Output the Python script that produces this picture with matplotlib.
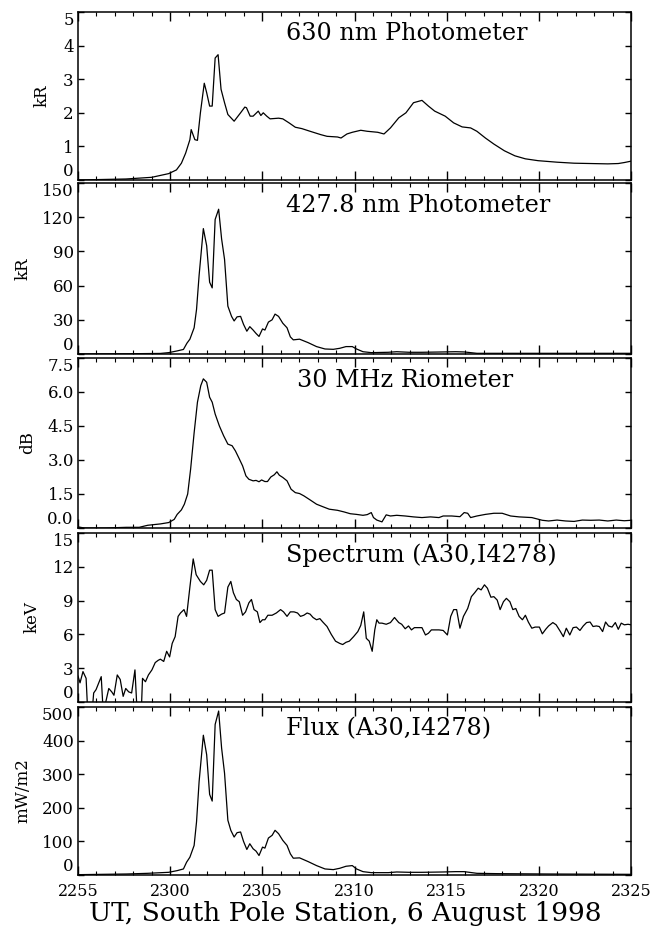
import matplotlib
matplotlib.use("Agg")
import matplotlib.pyplot as plt
from matplotlib.ticker import MultipleLocator, FixedLocator

plt.rcParams['font.family'] = ['DejaVu Serif']

# time axis: minutes after 22:55 UT
xtick_pos = [0, 5, 10, 15, 20, 25, 30]
xtick_labels = ['2255', '2300', '2305', '2310', '2315', '2320', '2325']

# Panel 1: 630 nm photometer (kR)
t1 = [0, 2.6, 4.0, 4.92, 5.34, 5.61, 5.84, 6.07, 6.14, 6.34, 6.48, 6.64, 6.85, 6.98, 7.14,
      7.28, 7.44, 7.60, 7.76, 7.95, 8.13, 8.47, 8.82, 9.05, 9.14, 9.34, 9.50, 9.78, 9.92, 10.05,
      10.24, 10.42, 10.88, 11.11, 11.45, 11.79, 12.14, 12.59, 13.17, 13.51, 14.08, 14.27, 14.59,
      14.88, 15.34, 15.69, 16.26, 16.60, 16.95, 17.40, 17.79, 18.20, 18.66, 19.01, 19.35, 19.92,
      20.38, 20.84, 21.30, 21.64, 22.10, 22.56, 23.13, 23.70, 24.27, 24.96, 25.99, 26.91, 27.82,
      28.74, 29.31, 29.64, 30.0]
v1 = [0.0, 0.03, 0.08, 0.19, 0.3, 0.5, 0.8, 1.2, 1.5, 1.2, 1.18, 2.0, 2.88, 2.6, 2.2,
      2.2, 3.63, 3.73, 2.7, 2.3, 1.95, 1.75, 2.0, 2.17, 2.15, 1.9, 1.9, 2.05, 1.92, 2.0,
      1.9, 1.82, 1.84, 1.82, 1.7, 1.57, 1.53, 1.45, 1.35, 1.3, 1.28, 1.25, 1.37,
      1.42, 1.48, 1.45, 1.42, 1.37, 1.55, 1.85, 2.0, 2.3, 2.37, 2.2, 2.05, 1.9,
      1.7, 1.58, 1.55, 1.45, 1.25, 1.07, 0.87, 0.72, 0.63, 0.575, 0.53, 0.5, 0.49,
      0.48, 0.49, 0.52, 0.56]

# Panel 2: 427.8 nm photometer (kR)
t2 = [0, 2.63, 4.47, 4.92, 5.38, 5.72, 5.91, 6.07, 6.30, 6.43, 6.57, 6.80, 6.98, 7.14, 7.28,
      7.44, 7.63, 7.79, 7.95, 8.13, 8.33, 8.47, 8.63, 8.82, 8.98, 9.16, 9.32, 9.50, 9.66, 9.82,
      10.01, 10.14, 10.33, 10.53, 10.69, 10.88, 11.11, 11.34, 11.52, 11.68, 12.02, 12.48, 12.94,
      13.40, 13.85, 14.20, 14.54, 14.88, 15.11, 15.46, 15.91, 16.83, 17.29, 17.98, 18.66, 19.81,
      20.49, 20.95, 21.64, 22.78, 30.0]
v2 = [0.1, 0.2, 0.5, 1.2, 2.7, 4, 9.5, 13, 23, 39, 69, 110, 95, 63, 58,
      118, 127, 101, 83, 42, 33, 29, 32.6, 33, 26, 20, 24, 21, 18, 15.4,
      22, 21, 28, 30, 35, 33, 27, 23, 15, 12.4, 13, 10, 6.5,
      4.4, 4.1, 5, 6.5, 6.5, 4.4, 2, 1.2, 1.5, 2, 1.5, 1.5, 1.8,
      2, 1.8, 0.6, 0.6, 0.6]

# Panel 3: 30 MHz riometer (dB)
t3 = [0, 0.34, 1.49, 2.63, 3.32, 3.78, 4.47, 4.92, 5.22, 5.38, 5.61, 5.77, 5.95, 6.11, 6.30,
      6.48, 6.66, 6.80, 6.98, 7.14, 7.28, 7.44, 7.67, 7.90, 8.13, 8.36, 8.54, 8.72, 8.93, 9.11,
      9.27, 9.50, 9.66, 9.82, 9.96, 10.14, 10.28, 10.46, 10.65, 10.79, 10.92, 11.11, 11.34, 11.56,
      11.79, 12.02, 12.25, 12.59, 12.94, 13.28, 13.63, 14.08, 14.43, 14.77, 15.11, 15.46, 15.69,
      15.91, 16.03, 16.21, 16.49, 16.72, 16.95, 17.29, 17.75, 18.20, 18.66, 19.12, 19.58, 19.81,
      20.27, 20.72, 20.95, 21.14, 21.30, 21.64, 22.10, 22.56, 23.01, 23.47, 23.93, 24.62, 25.19,
      25.53, 25.99, 26.45, 26.91, 27.36, 27.82, 28.28, 28.74, 29.20, 29.64, 30.0]
v3 = [0.05, 0.0, 0.0, 0.03, 0.03, 0.12, 0.18, 0.24, 0.38, 0.6, 0.8, 1.05, 1.5, 2.6, 4.2,
      5.55, 6.28, 6.58, 6.43, 5.77, 5.55, 5.03, 4.5, 4.07, 3.7, 3.63, 3.4, 3.1, 2.74, 2.3,
      2.15, 2.08, 2.1, 2.04, 2.12, 2.05, 2.05, 2.25, 2.35, 2.48, 2.33, 2.23, 2.08, 1.71,
      1.56, 1.52, 1.42, 1.24, 1.05, 0.94, 0.83, 0.78, 0.71, 0.63, 0.6, 0.56, 0.59,
      0.68, 0.46, 0.35, 0.27, 0.58, 0.53, 0.56, 0.53, 0.49, 0.46, 0.49, 0.46, 0.53,
      0.53, 0.5, 0.68, 0.65, 0.46, 0.53, 0.6, 0.65, 0.65, 0.53, 0.49, 0.46, 0.34,
      0.31, 0.35, 0.31, 0.29, 0.35, 0.34, 0.35, 0.31, 0.35, 0.32, 0.34]

# Panel 4: characteristic energy spectrum (keV); values below 0 are off-scale
t4 = [0, 0.11, 0.27, 0.44, 0.53, 0.76, 0.85, 0.98, 1.26, 1.37, 1.67, 1.83, 1.95, 2.13, 2.29,
      2.45, 2.59, 2.75, 2.91, 3.09, 3.21, 3.43, 3.50, 3.66, 3.82, 4.01, 4.19, 4.35, 4.47, 4.65,
      4.81, 4.97, 5.11, 5.27, 5.43, 5.56, 5.75, 5.89, 6.07, 6.25, 6.41, 6.64, 6.82, 6.98, 7.14,
      7.28, 7.44, 7.60, 7.79, 7.95, 8.13, 8.29, 8.43, 8.59, 8.75, 8.93, 9.09, 9.27, 9.41, 9.55,
      9.73, 9.87, 10.01, 10.14, 10.30, 10.53, 10.76, 10.99, 11.15, 11.34, 11.52, 11.72, 11.91,
      12.07, 12.25, 12.43, 12.59, 12.75, 12.94, 13.12, 13.28, 13.51, 13.74, 13.97, 14.20, 14.36,
      14.54, 14.72, 14.95, 15.18, 15.34, 15.50, 15.64, 15.80, 15.96, 16.10, 16.21, 16.33, 16.49,
      16.72, 16.95, 17.17, 17.40, 17.56, 17.75, 17.93, 18.09, 18.25, 18.43, 18.66, 18.85, 19.01,
      19.17, 19.35, 19.58, 19.81, 20.04, 20.22, 20.38, 20.54, 20.72, 20.91, 21.14, 21.34, 21.52,
      21.71, 21.87, 22.05, 22.21, 22.40, 22.56, 22.74, 22.90, 23.08, 23.24, 23.43, 23.59, 23.75,
      23.93, 24.11, 24.27, 24.43, 24.62, 24.80, 25.03, 25.19, 25.37, 25.53, 25.76, 25.94, 26.17,
      26.33, 26.49, 26.68, 26.86, 27.04, 27.23, 27.41, 27.59, 27.78, 27.94, 28.12, 28.28, 28.46,
      28.62, 28.78, 28.97, 29.15, 29.31, 29.47, 29.64, 29.84, 30.0]
v4 = [2.3, 1.7, 2.7, 2.1, -1, -1, 0.8, 1.1, 2.25, -1, 1.2, 0.9, 0.6, 2.4, 2.0,
      0.5, 1.2, 0.9, 0.8, 2.85, -1, -1, 2.1, 1.8, 2.4, 2.85, 3.5, 3.7, 3.8, 3.6,
      4.5, 4.0, 5.2, 5.8, 7.6, 7.9, 8.2, 7.6, 10.2, 12.7, 11.3, 10.7, 10.4, 10.8, 11.7,
      11.7, 8.2, 7.6, 7.8, 7.9, 10.2, 10.7, 9.7, 9.1, 8.9, 7.7, 8.0, 8.8, 9.1, 8.2,
      8.0, 7.05, 7.3, 7.3, 7.7, 7.7, 7.9, 8.2, 8.0, 7.6, 8.0, 8.0, 7.9,
      7.6, 7.7, 7.9, 7.8, 7.5, 7.3, 7.4, 7.1, 6.7, 6.0, 5.4, 5.2, 5.1,
      5.3, 5.4, 5.8, 6.25, 6.8, 8.0, 5.65, 5.4, 4.5, 6.4, 7.3, 7.0, 7.0,
      6.9, 7.05, 7.5, 7.05, 6.9, 6.5, 6.75, 6.4, 6.6, 6.6, 6.6, 5.95, 6.1,
      6.4, 6.4, 6.4, 6.35, 5.95, 7.6, 8.2, 8.2, 6.55, 7.6, 8.3, 9.35, 9.7,
      10.1, 9.95, 10.4, 10.1, 9.3, 9.35, 9.05, 8.2, 8.9, 9.2, 8.9, 8.2, 8.3,
      7.6, 7.3, 7.7, 7.1, 6.55, 6.65, 6.65, 6.05, 6.45, 6.75, 7.05, 6.85, 6.25,
      5.8, 6.55, 5.95, 6.6, 6.65, 6.35, 6.75, 7.05, 7.1, 6.7, 6.75, 6.7, 6.25,
      7.1, 6.75, 6.65, 7.05, 6.45, 7.0, 6.85, 6.9, 6.85]

# Panel 5: energy flux (mW/m2)
t5 = [0, 2.63, 3.78, 4.92, 5.38, 5.72, 5.89, 6.07, 6.30, 6.43, 6.57, 6.80, 6.98, 7.14, 7.28,
      7.44, 7.63, 7.79, 7.95, 8.13, 8.29, 8.47, 8.63, 8.82, 8.98, 9.16, 9.32, 9.50, 9.66, 9.82,
      10.01, 10.14, 10.33, 10.53, 10.69, 10.88, 11.11, 11.34, 11.52, 11.68, 12.02, 12.48, 12.94,
      13.40, 13.85, 14.20, 14.54, 14.88, 15.11, 15.46, 15.91, 16.83, 17.29, 17.98, 18.66, 19.81,
      20.49, 20.95, 21.64, 22.78, 25.53, 30.0]
v5 = [1, 3, 5, 8, 13, 18, 38, 53, 88, 158, 278, 416, 358, 240, 220,
      448, 488, 378, 303, 163, 133, 113, 126, 128, 100, 76, 93, 78, 71, 58,
      83, 80, 110, 118, 133, 123, 103, 88, 63, 50, 51, 40, 28,
      18, 16, 20, 26, 28, 18, 10, 7, 7, 9, 8, 8, 9,
      10, 10, 5, 4, 3, 2]

titles = ['630 nm Photometer', '427.8 nm Photometer', '30 MHz Riometer',
          'Spectrum (A30,I4278)', 'Flux (A30,I4278)']
ylabels = ['kR', 'kR', 'dB', 'keV', 'mW/m2']
ymaxes = [5, 150, 7.5, 15, 500]
ysteps = [1, 30, 1.5, 3, 100]
yfmts = ['{:.0f}', '{:.0f}', '{:.1f}', '{:.0f}', '{:.0f}']
series = [(t1, v1), (t2, v2), (t3, v3), (t4, v4), (t5, v5)]

# layout (pixels from top) for each panel
W, H = 662, 939
panel_px = [(12, 180), (183, 354), (358, 528), (533, 702), (707, 875)]
left_px, right_px = 78, 631
title_x = [0.376, 0.376, 0.396, 0.376, 0.376]
ylabel_x_px = [42, 23, 28, 32, 23]

fig = plt.figure(figsize=(W / 100, H / 100), dpi=100)
for i, ((top, bot), (t, v)) in enumerate(zip(panel_px, series)):
    ax = fig.add_axes([left_px / W, 1 - bot / H, (right_px - left_px) / W, (bot - top) / H])
    ax.plot(t, v, color='black', lw=0.9)
    ax.set_xlim(0, 30)
    ax.set_ylim(0, ymaxes[i])
    ax.xaxis.set_major_locator(FixedLocator(xtick_pos))
    ax.xaxis.set_minor_locator(MultipleLocator(1))
    nt = int(round(ymaxes[i] / ysteps[i]))
    yt = [k * ysteps[i] for k in range(nt + 1)]
    ax.set_yticks(yt)
    ax.set_yticklabels([yfmts[i].format(y) for y in yt])
    if i == 4:
        ax.set_xticklabels(xtick_labels)
    else:
        ax.set_xticklabels([])
    ax.tick_params(axis='x', which='major', direction='in', top=True, bottom=True,
                   length=6.5, width=1.0, labelsize=11.5, pad=6)
    ax.tick_params(axis='x', which='minor', direction='in', top=True, bottom=True,
                   length=3.2, width=0.8)
    ax.tick_params(axis='y', which='major', direction='in', left=True, right=True,
                   length=4.5, width=1.0, labelsize=12, pad=3)
    yticks = ax.yaxis.get_major_ticks()
    yticks[0].label1.set_verticalalignment('bottom')
    yticks[-1].label1.set_verticalalignment('top')
    for s in ax.spines.values():
        s.set_linewidth(1.1)
    ax.text(title_x[i], 0.87, titles[i], transform=ax.transAxes, fontsize=17.2,
            ha='left', va='center')
    lx = (ylabel_x_px[i] - left_px) / (right_px - left_px)
    ax.text(lx, 0.5, ylabels[i], transform=ax.transAxes, fontsize=12, rotation=90,
            ha='center', va='center')

fig.text(345 / W, 1 - 914 / H, 'UT, South Pole Station, 6 August 1998', fontsize=19,
         ha='center', va='center')

fig.savefig('out.png', dpi=100, facecolor='white')
